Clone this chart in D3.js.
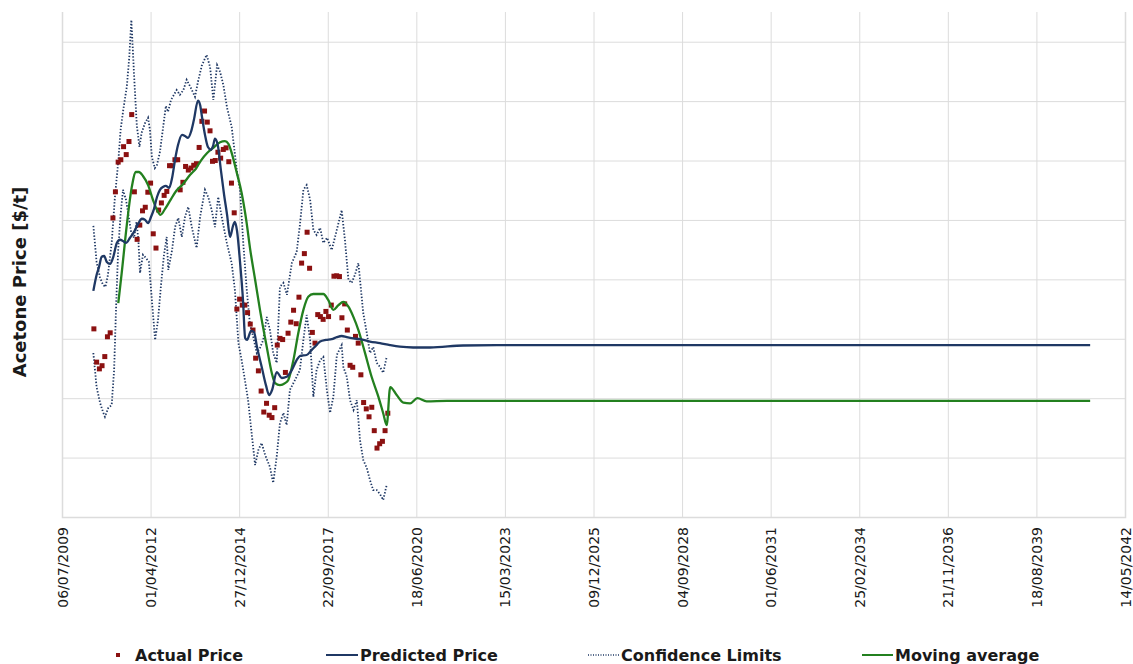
<!DOCTYPE html>
<html>
<head>
<meta charset="utf-8">
<script src="https://cdn.jsdelivr.net/npm/d3@7"></script>
<style>
  body { margin: 0; background: #ffffff; }
  svg { display: block; }
</style>
</head>
<body>
<svg id="chart" width="1133" height="664"></svg>
<script>
// ---------------- DATA ----------------
const tickLabels = ["06/07/2009","01/04/2012","27/12/2014","22/09/2017","18/06/2020","15/03/2023",
  "09/12/2025","04/09/2028","01/06/2031","25/02/2034","21/11/2036","18/08/2039","14/05/2042"];

const yGridValues = [300, 450, 600, 750, 900, 1050, 1200, 1350, 1500];
const yMax = 1575;

// Actual price: monthly observations starting July 2010
const actualStart = "2010-07-01";
const actualPrice = [775,691,674,682,705,755,765,1055,1121,1196,
  1202,1235,1215,1248,1316,1121,1001,1037,1073,1082,
  1120,1143,1015,979,1075,1093,1112,1122,1187,1187,
  1202,1202,1126,1145,1185,1176,1181,1188,1192,1233,
  1299,1325,1297,1275,1198,1200,1221,1206,1228,1232,
  1197,1143,1068,825,850,835,835,816,787,772,
  701,669,618,565,587,557,551,576,734,751,
  748,665,764,792,822,788,855,941,965,1019,
  928,766,739,811,806,799,819,806,835,908,
  909,907,803,838,772,683,678,756,739,659,
  589,573,553,577,518,474,485,491,518,562];

// Other series: month offset from July 2010 and value
const predictedMonth = [-0.2,1.0,1.9,2.9,3.8,4.8,6.0,7.2,8.5,9.7,10.8,11.9,13.4,14.9,16.4,17.8,19.0,20.1,21.2,22.3,
  23.4,24.5,25.6,26.7,27.9,29.0,30.1,31.2,32.7,33.8,34.9,36.0,37.1,38.6,39.4,40.1,41.2,42.3,43.4,44.2,
  44.9,46.0,47.1,48.3,49.4,50.5,51.6,52.3,53.1,54.2,55.3,56.1,56.8,58.3,59.4,60.5,62.2,63.8,65.0,66.1,
  67.8,69.7,71.5,73.4,75.2,76.5,78.9,80.8,82.0,83.9,86.1,88.2,90.1,91.9,93.8,96.2,98.7,102.4,106.1,109.8,
  113.5,118.4,124.7,136.9,149.5,369.5];
const predictedValue = [871,911,931,957,959,944,939,957,992,1000,997,992,1005,1020,1040,1053,1050,1042,1058,1078,
  1108,1126,1133,1136,1131,1156,1202,1239,1265,1262,1257,1272,1303,1351,1340,1310,1265,1234,1227,1237,
  1255,1237,1176,1113,1063,1007,1035,1045,1022,944,848,752,747,770,767,729,680,633,608,621,
  666,651,654,671,696,707,709,722,730,743,747,749,754,757,754,751,749,743,739,734,
  730,728,728,733,734,734];

const upperMonth = [-0.2,1.0,2.3,3.4,4.3,5.2,6.6,7.8,9.1,9.9,10.9,12.2,13.1,13.9,14.9,15.9,16.9,17.7,19.0,20.1,
  20.8,21.5,22.6,23.4,24.5,25.7,26.7,27.5,28.6,30.7,31.9,33.2,34.4,36.0,37.5,38.6,40.0,41.8,43.1,44.3,
  45.7,46.8,48.0,49.4,51.1,53.0,54.2,55.4,56.7,57.9,59.1,60.4,61.6,62.8,64.1,65.3,66.5,67.8,69.0,70.3,
  71.6,73.4,75.2,76.4,77.7,78.9,80.2,81.4,82.6,83.9,85.1,86.5,88.2,90.1,91.3,91.9,93.1,94.4,95.6,96.8,
  98.1,98.7,99.9,101.2,102.4,103.6,104.9,106.1,107.3,108.6];
const upperValue = [1035,944,904,886,881,911,992,1108,1202,1277,1328,1386,1459,1555,1416,1290,1234,1270,1295,1308,
  1277,1209,1181,1189,1222,1285,1338,1323,1353,1378,1366,1378,1404,1383,1361,1399,1439,1467,1436,1353,
  1441,1424,1391,1333,1285,1176,1126,992,873,785,755,714,727,747,805,772,714,689,881,891,
  861,941,969,1037,1126,1138,1101,1025,1012,1030,992,1005,974,1025,1058,1075,1000,899,891,911,
  941,899,815,765,714,729,689,679,664,704];

const lowerMonth = [-0.2,1.0,2.3,3.4,4.1,5.3,6.6,7.5,8.2,9.0,9.9,10.8,11.9,12.8,13.8,14.9,15.8,16.5,17.1,18.2,
  19.3,20.4,21.5,22.7,23.8,24.9,26.0,27.0,27.6,29.0,30.1,31.3,32.6,33.8,35.0,36.3,38.1,39.4,41.2,42.4,
  43.7,44.9,46.1,47.4,49.3,51.1,52.3,53.6,54.8,56.0,57.2,58.5,59.8,61.0,62.2,63.5,65.3,66.5,67.8,69.0,
  70.3,71.5,72.7,74.6,76.4,77.7,78.9,80.2,81.4,82.6,83.9,85.1,86.4,87.6,88.8,90.1,91.9,92.5,93.8,95.0,
  96.3,97.5,98.7,99.9,101.2,102.4,103.6,104.9,106.1,107.3,108.6];
const lowerValue = [714,628,588,565,553,575,583,671,823,974,1063,1126,1101,1063,1020,1005,1045,1000,916,962,
  954,944,848,747,798,886,962,1007,924,974,1032,1055,1007,1058,1083,1032,979,1058,1126,1108,
  1075,1032,1108,1058,992,941,873,739,696,646,595,512,431,469,487,457,426,386,452,537,
  563,532,621,646,671,747,810,747,603,671,696,704,621,563,603,709,734,679,654,595,
  570,595,494,444,424,393,368,368,358,343,381];

const maMonth = [9.05,10.3,12.2,14.0,15.6,16.7,18.2,20.1,21.9,23.4,24.7,26.4,28.2,30.5,33.1,35.7,37.9,39.7,42.0,44.6,
  46.8,48.6,49.9,51.2,53.0,54.8,56.6,57.9,59.8,61.6,64.1,66.0,67.2,69.0,70.9,72.1,74.0,75.8,77.7,79.5,
  81.4,85.1,86.9,88.8,90.7,92.5,94.4,96.2,98.1,100.6,103.0,105.5,107.3,108.6,109.9,112.3,114.8,117.3,120.0,123.4,
  130.9,369.5];
const maValue = [840,915,1037,1131,1171,1171,1161,1138,1101,1075,1063,1078,1098,1123,1141,1164,1180,1200,1219,1234,
  1246,1249,1242,1217,1169,1118,1045,979,899,823,730,663,638,633,638,646,696,764,823,856,
  863,863,848,823,835,843,831,806,772,713,654,604,562,532,628,608,589,587,600,592,
  593,593];

const legendLabels = ["Actual Price", "Predicted Price", "Confidence Limits", "Moving average"];
const yTitle = "Acetone Price [$/t]";

// ---------------- STYLE / LAYOUT ----------------
const colors = { actual: "#8b1111", predicted: "#1f3864", conf: "#1f3864", ma: "#23801f", grid: "#dcdcdc", text: "#1a1a1a" };
const plot = { left: 62, right: 1125, top: 12, bottom: 517 };
const font = "'DejaVu Sans', Verdana, sans-serif";

const svg = d3.select("#chart");
svg.append("rect").attr("width", 1133).attr("height", 664).attr("fill", "#fff");

const parseTick = d3.timeParse("%d/%m/%Y");
const tickDates = tickLabels.map(parseTick);
const startDate = d3.timeParse("%Y-%m-%d")(actualStart);
const monthToDate = k => new Date(startDate.getTime() + k * 30.4375 * 864e5);

const x = d3.scaleTime().domain([tickDates[0], tickDates[tickDates.length - 1]]).range([plot.left, plot.right]);
const y = d3.scaleLinear().domain([yGridValues[0], yMax]).range([plot.bottom, plot.top]);

// horizontal gridlines
const yAxis = d3.axisLeft(y).tickValues(yGridValues).tickSize(-(plot.right - plot.left)).tickFormat("");
const gy = svg.append("g").attr("transform", `translate(${plot.left},0)`).call(yAxis);
gy.select(".domain").remove();
gy.selectAll(".tick line").attr("stroke", colors.grid).attr("stroke-width", 1);

// vertical gridlines + x axis labels
const xAxis = d3.axisBottom(x).tickValues(tickDates).tickFormat((d, i) => tickLabels[i]).tickSize(-(plot.bottom - plot.top)).tickPadding(0);
const gx = svg.append("g").attr("transform", `translate(0,${plot.bottom})`).call(xAxis);
gx.select(".domain").attr("stroke", colors.grid).attr("stroke-width", 1.5);
gx.selectAll(".tick line").attr("stroke", colors.grid).attr("stroke-width", 1);
gx.selectAll(".tick text")
  .attr("transform", "rotate(-90)")
  .attr("text-anchor", "end")
  .attr("x", -10).attr("y", 0).attr("dy", "0.36em")
  .attr("fill", colors.text)
  .style("font-family", font).style("font-size", "14px");

// series
const toPts = (ms, vs) => ms.map((m, i) => ({ d: monthToDate(m), v: vs[i] }));
const line = d3.line().x(p => x(p.d)).y(p => y(p.v));
const smooth = d3.line().x(p => x(p.d)).y(p => y(p.v)).curve(d3.curveMonotoneX);

const g = svg.append("g");
g.append("path").datum(toPts(upperMonth, upperValue)).attr("d", line)
  .attr("fill", "none").attr("stroke", colors.conf).attr("stroke-width", 1.8).attr("stroke-dasharray", "1.4 1.8");
g.append("path").datum(toPts(lowerMonth, lowerValue)).attr("d", line)
  .attr("fill", "none").attr("stroke", colors.conf).attr("stroke-width", 1.8).attr("stroke-dasharray", "1.4 1.8");

const actualPts = actualPrice.map((v, i) => ({ d: d3.timeMonth.offset(startDate, i), v }));
g.selectAll("rect.actual").data(actualPts).join("rect").attr("class", "actual")
  .attr("x", p => x(p.d) - 2.5).attr("y", p => y(p.v) - 2.5)
  .attr("width", 5).attr("height", 5).attr("fill", colors.actual);

g.append("path").datum(toPts(maMonth, maValue)).attr("d", smooth)
  .attr("fill", "none").attr("stroke", colors.ma).attr("stroke-width", 2.3);
g.append("path").datum(toPts(predictedMonth, predictedValue)).attr("d", smooth)
  .attr("fill", "none").attr("stroke", colors.predicted).attr("stroke-width", 2.3);

// y title
svg.append("text").attr("transform", "translate(26,282) rotate(-90)")
  .attr("text-anchor", "middle").attr("fill", colors.text)
  .style("font-family", font).style("font-size", "18px").style("font-weight", "bold")
  .text(yTitle);

// legend
const legY = 655;
const leg = svg.append("g").style("font-family", font).style("font-size", "16px").style("font-weight", "bold");
// Actual
leg.append("rect").attr("x", 116).attr("y", legY - 2).attr("width", 4).attr("height", 4).attr("fill", colors.actual);
leg.append("text").attr("x", 135).attr("y", legY).attr("dy", "0.36em").attr("fill", colors.text).text(legendLabels[0]);
// Predicted
leg.append("line").attr("x1", 326).attr("x2", 358).attr("y1", legY).attr("y2", legY).attr("stroke", colors.predicted).attr("stroke-width", 2);
leg.append("text").attr("x", 360).attr("y", legY).attr("dy", "0.36em").attr("fill", colors.text).text(legendLabels[1]);
// Confidence
leg.append("line").attr("x1", 588).attr("x2", 619).attr("y1", legY).attr("y2", legY).attr("stroke", colors.conf)
  .attr("stroke-width", 1.3).attr("stroke-dasharray", "1 1.5");
leg.append("text").attr("x", 621).attr("y", legY).attr("dy", "0.36em").attr("fill", colors.text).text(legendLabels[2]);
// Moving average
leg.append("line").attr("x1", 862).attr("x2", 893).attr("y1", legY).attr("y2", legY).attr("stroke", colors.ma).attr("stroke-width", 2);
leg.append("text").attr("x", 895).attr("y", legY).attr("dy", "0.36em").attr("fill", colors.text).text(legendLabels[3]);
</script>
</body>
</html>
